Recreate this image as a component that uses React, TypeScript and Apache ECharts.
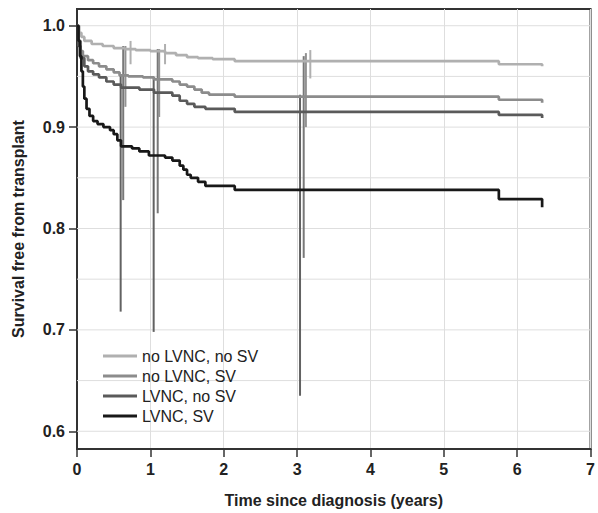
import React, { useEffect, useRef } from 'react';
import * as echarts from 'echarts';

const seriesNames = ['no LVNC, no SV', 'no LVNC, SV', 'LVNC, no SV', 'LVNC, SV'];
const seriesColors = ['#b0b0b0', '#8c8c8c', '#5a5a5a', '#181818'];

// Kaplan-Meier step curves (time in years, survival)
const time1 = [0, 0.03, 0.06, 0.1, 0.2, 0.35, 0.5, 0.65, 0.8, 1.0, 1.2, 1.35, 1.5, 1.65, 1.85, 2.15, 5.75, 6.34];
const surv1 = [1.0, 0.993, 0.989, 0.985, 0.982, 0.98, 0.978, 0.977, 0.976, 0.975, 0.973, 0.971, 0.969, 0.968, 0.967, 0.965, 0.962, 0.96];

const time2 = [0, 0.02, 0.05, 0.08, 0.15, 0.22, 0.3, 0.4, 0.5, 0.58, 0.7, 0.9, 1.05, 1.3, 1.4, 1.5, 1.6, 1.7, 1.8, 2.15, 5.75, 6.34];
const surv2 = [1.0, 0.985, 0.975, 0.97, 0.966, 0.963, 0.96, 0.957, 0.954, 0.951, 0.95, 0.949, 0.947, 0.945, 0.942, 0.94, 0.937, 0.934, 0.932, 0.93, 0.927, 0.924];

const time3 = [0, 0.02, 0.05, 0.1, 0.15, 0.22, 0.3, 0.4, 0.5, 0.6, 0.85, 1.05, 1.3, 1.4, 1.5, 1.6, 1.75, 2.15, 5.75, 6.34];
const surv3 = [1.0, 0.98, 0.968, 0.96, 0.955, 0.952, 0.949, 0.945, 0.942, 0.939, 0.937, 0.934, 0.931, 0.926, 0.923, 0.92, 0.918, 0.915, 0.912, 0.909];

const time4 = [0, 0.02, 0.04, 0.06, 0.08, 0.1, 0.13, 0.17, 0.22, 0.28, 0.36, 0.45, 0.5, 0.55, 0.6, 0.75, 0.85, 0.98, 1.2, 1.3, 1.4, 1.45, 1.5, 1.55, 1.65, 1.75, 2.15, 5.75, 6.34];
const surv4 = [1.0, 0.985, 0.97, 0.955, 0.94, 0.928, 0.918, 0.911, 0.906, 0.903, 0.9, 0.897, 0.893, 0.887, 0.881, 0.879, 0.876, 0.872, 0.87, 0.867, 0.862, 0.858, 0.853, 0.85, 0.846, 0.842, 0.838, 0.829, 0.821];

// Confidence-interval bars
const ciTime = [0.595, 0.63, 0.66, 0.73, 1.045, 1.1, 1.12, 1.2, 3.04, 3.09, 3.12, 3.18];
const ciLow = [0.718, 0.828, 0.92, 0.962, 0.698, 0.815, 0.91, 0.962, 0.635, 0.771, 0.9, 0.948];
const ciHigh = [0.952, 0.98, 0.98, 0.985, 0.949, 0.977, 0.977, 0.982, 0.932, 0.97, 0.973, 0.976];
const ciGroup = [3, 2, 1, 0, 3, 2, 1, 0, 3, 2, 1, 0];
const ciColors = ['#b0b0b0', '#929292', '#787878', '#626262'];

const yTickValues = [0.6, 0.7, 0.8, 0.9, 1.0];
const yGridValues = [0.6, 0.65, 0.7, 0.75, 0.8, 0.85, 0.9, 0.95, 1.0];
const X_MIN = 0;
const X_MAX = 7;

const FONT = '"Liberation Sans", Arial, Helvetica, sans-serif';

export default function App() {
  const ref = useRef<HTMLDivElement>(null);
  useEffect(() => {
    document.body.style.margin = '0';
    if (!ref.current) return;
    const chart = echarts.init(ref.current, undefined, { renderer: 'svg' });
    const times = [time1, time2, time3, time4];
    const survs = [surv1, surv2, surv3, surv4];
    const lineSeries = seriesNames.map((name, i) => ({
      name,
      type: 'line',
      step: 'end',
      symbol: 'none',
      showSymbol: false,
      data: times[i].map((t, j) => [t, survs[i][j]]),
      lineStyle: { color: seriesColors[i], width: 2.7 },
      itemStyle: { color: seriesColors[i] },
      z: 3,
    }));
    chart.setOption({
      animation: false,
      grid: {
        left: 77, right: 2, top: 9, bottom: 60,
        show: true, borderColor: '#333', borderWidth: 2,
      },
      legend: {
        data: seriesNames.map((n, i) => ({ name: n, icon: 'rect', itemStyle: { color: seriesColors[i] } })),
        orient: 'vertical',
        left: 98,
        top: 343,
        itemWidth: 34,
        itemHeight: 3,
        itemGap: 4,
        textStyle: { fontFamily: FONT, fontSize: 16, color: '#222' },
      },
      xAxis: {
        type: 'value',
        min: X_MIN, max: X_MAX, interval: 1,
        name: 'Time since diagnosis (years)',
        nameLocation: 'middle',
        nameGap: 43,
        nameTextStyle: { fontFamily: FONT, fontSize: 16, fontWeight: 'bold', color: '#222' },
        axisLine: { show: true, lineStyle: { color: '#333', width: 2 } },
        axisTick: { show: true, length: 8, lineStyle: { color: '#333', width: 1.5 } },
        axisLabel: { margin: 12, fontFamily: FONT, fontSize: 16, fontWeight: 'bold', color: '#222' },
        splitLine: { show: true, lineStyle: { color: '#dedede', width: 1 } },
      },
      yAxis: {
        type: 'value',
        min: 0.5825, max: 1.0165,
        name: 'Survival free from transplant',
        nameLocation: 'middle',
        nameGap: 51,
        nameTextStyle: { fontFamily: FONT, fontSize: 16, fontWeight: 'bold', color: '#222' },
        axisLine: { show: true, lineStyle: { color: '#333', width: 2 } },
        axisTick: { show: true, length: 8, customValues: yTickValues, lineStyle: { color: '#333', width: 1.5 } },
        axisLabel: {
          margin: 12, customValues: yTickValues, fontFamily: FONT, fontSize: 16, fontWeight: 'bold', color: '#222',
          formatter: (v: number) => v.toFixed(1),
        },
        splitLine: { show: false },
      },
      series: [
        {
          name: 'ygrid',
          type: 'custom',
          silent: true,
          z: 1,
          encode: { y: 0 },
          data: yGridValues.map((v) => [v]),
          renderItem: (params: any, api: any) => {
            const v = api.value(0);
            const a = api.coord([X_MIN, v]);
            const b = api.coord([X_MAX, v]);
            return {
              type: 'line',
              shape: { x1: a[0], y1: a[1], x2: b[0], y2: b[1] },
              style: { stroke: '#dedede', lineWidth: 1 },
            };
          },
        },
        {
          name: 'ci',
          type: 'custom',
          silent: true,
          z: 2,
          encode: { x: 0, y: [1, 2] },
          data: ciTime.map((t, i) => [t, ciLow[i], ciHigh[i], ciGroup[i]]),
          renderItem: (params: any, api: any) => {
            const p1 = api.coord([api.value(0), api.value(1)]);
            const p2 = api.coord([api.value(0), api.value(2)]);
            return {
              type: 'line',
              shape: { x1: p1[0], y1: p1[1], x2: p2[0], y2: p2[1] },
              style: { stroke: ciColors[api.value(3)], lineWidth: 2 },
            };
          },
        },
        ...lineSeries,
      ],
    });
    return () => chart.dispose();
  }, []);
  return <div ref={ref} style={{ width: 598, height: 513 }} />;
}
